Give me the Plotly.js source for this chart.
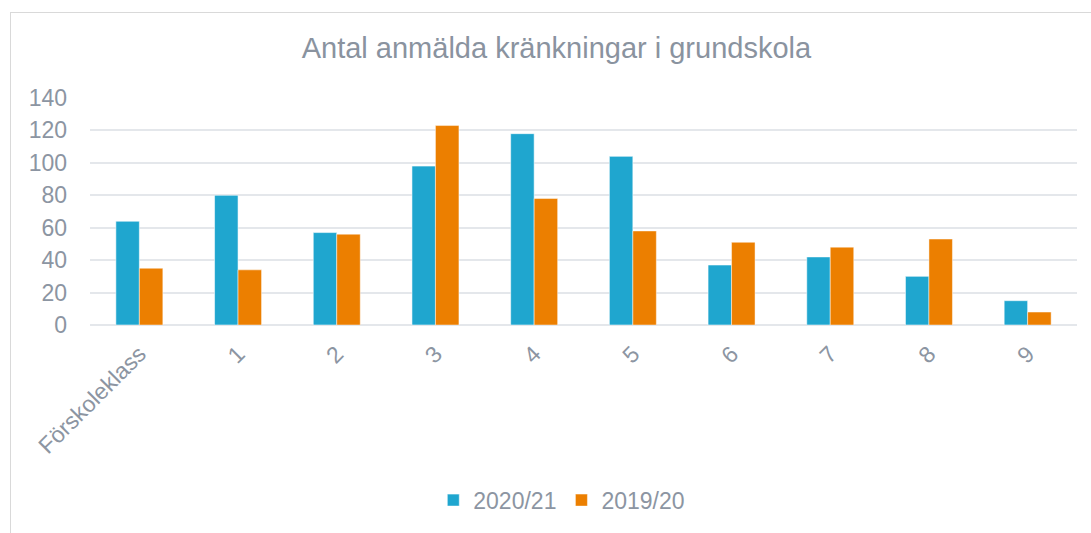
<!DOCTYPE html>
<html>
<head>
<meta charset="utf-8">
<script src="https://cdn.plot.ly/plotly-3.0.1.min.js"></script>
<style>
  html, body { margin: 0; padding: 0; background: #ffffff; overflow: hidden; }
  #wrap { position: relative; width: 1091px; height: 533px; }
  #chart { position: absolute; left: 0; top: 0; width: 1091px; height: 533px; }
  #frame { position: absolute; left: 10px; top: 12px; width: 1100px; height: 600px;
           border: 1px solid #d9d9d9; pointer-events: none; box-sizing: border-box; }
</style>
</head>
<body>
<div id="wrap">
  <div id="chart"></div>
  <div id="frame"></div>
</div>
<script>
const categories = ["Förskoleklass", "1", "2", "3", "4", "5", "6", "7", "8", "9"];
const series2021 = [64, 80, 57, 98, 118, 104, 37, 42, 30, 15];
const series1920 = [35, 34, 56, 123, 78, 58, 51, 48, 53, 8];
const seriesNames = ["2020/21", "2019/20"];
const yTicks = [0, 20, 40, 60, 80, 100, 120, 140];

const textColor = "#8c95a2";
const font = "Liberation Sans, Arial, sans-serif";

const traces = [
  {
    type: "bar", name: seriesNames[0], x: categories, y: series2021,
    marker: { color: "#1fa6cf", line: { color: "rgba(255,255,255,0.55)", width: 1 } },
    hoverinfo: "x+y+name"
  },
  {
    type: "bar", name: seriesNames[1], x: categories, y: series1920,
    marker: { color: "#ec7f00", line: { color: "rgba(255,255,255,0.45)", width: 1 } },
    hoverinfo: "x+y+name"
  }
];

const layout = {
  width: 1091, height: 533,
  margin: { l: 90, r: 14, t: 98, b: 205, pad: 0 },
  paper_bgcolor: "#ffffff", plot_bgcolor: "#ffffff",
  font: { family: font, color: textColor, size: 23 },
  title: {
    text: "Antal anmälda kränkningar i grundskola",
    font: { family: font, size: 29, color: "#8a939f" },
    x: 0.51, xanchor: "center", y: 1 - 48 / 533, yanchor: "middle", yref: "container"
  },
  barmode: "group",
  bargap: 0.524,
  bargroupgap: 0,
  xaxis: {
    type: "category",
    tickangle: -45,
    tickfont: { family: font, size: 23, color: textColor },
    showgrid: false, zeroline: false, showline: false, ticks: "",
    ticklabelstandoff: 10
  },
  yaxis: {
    range: [0, 140],
    tickvals: yTicks,
    ticktext: yTicks.map(String),
    tickfont: { family: font, size: 23, color: textColor },
    showgrid: true, gridcolor: "#e4e7eb", gridwidth: 2,
    zeroline: true, zerolinecolor: "#e4e7eb", zerolinewidth: 2,
    showline: false, ticks: "",
    ticklabelstandoff: 22
  },
  legend: {
    orientation: "h", x: 0.478, xanchor: "center",
    y: (328 - 505) / 229.4, yanchor: "middle",
    font: { family: font, size: 23, color: textColor },
    itemwidth: 30, traceorder: "normal"
  },
  showlegend: true
};

Plotly.newPlot("chart", traces, layout, { displayModeBar: false, staticPlot: true });
</script>
</body>
</html>
